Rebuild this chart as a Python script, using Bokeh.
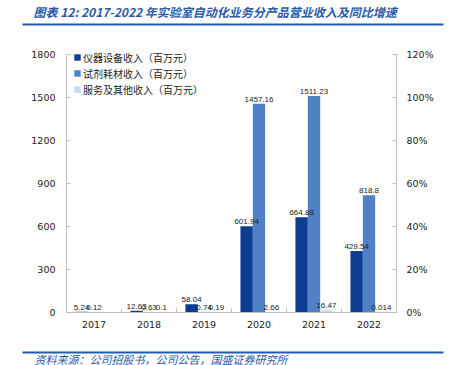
from bokeh.plotting import figure
from bokeh.models import (ColumnDataSource, LinearAxis, Range1d, FixedTicker, LabelSet, Label,
                          Legend, LegendItem, PrintfTickFormatter)
from bokeh.core.properties import value
from bokeh.embed import file_html
from bokeh.resources import INLINE

years = ["2017", "2018", "2019", "2020", "2021", "2022"]
instrument = [5.24, 12.63, 58.04, 601.94, 664.88, 429.54]
consumable = [0.12, 0.63, 0.74, 1457.16, 1511.23, 818.8]
service = [0.0, 0.1, 0.19, 2.66, 16.47, 0.014]
instrument_labels = ["5.24", "12.63", "58.04", "601.94", "664.88", "429.54"]
consumable_labels = ["0.12", "0.63", "0.74", "1457.16", "1511.23", "818.8"]
service_labels = ["", "0.1", "0.19", "2.66", "16.47", "0.014"]
series_names = ["仪器设备收入（百万元）", "试剂耗材收入（百万元）", "服务及其他收入（百万元）"]
left_ticks = [0, 300, 600, 900, 1200, 1500, 1800]
right_ticks = [0, 20, 40, 60, 80, 100, 120]
title_text = "图表 12:  2017-2022 年实验室自动化业务分产品营业收入及同比增速"
source_text = "资料来源：公司招股书，公司公告，国盛证券研究所"

colors = ["#0B3D91", "#4F81C4", "#C6D8EF"]
BLUE = "#1F5BB0"
TXT_BLUE = "#2B5AA8"
W, H = 451, 365
BW = 0.225
YMAX, PMAX = left_ticks[-1], right_ticks[-1]
N = len(years)

# layout of the plotting area inside the canvas (pixels)
AX_L, AX_R, AX_T, AX_B = 66, 396, 54, 312
CAT_PX = (AX_R - AX_L) / N


def xd(px):
    return (px - AX_L) / CAT_PX


def yd(py):
    return (AX_B - py) * YMAX / (AX_B - AX_T)


def pd(py):
    return (AX_B - py) * PMAX / (AX_B - AX_T)


p = figure(width=W, height=H, output_backend="svg", toolbar_location=None, title=None,
           x_range=Range1d(xd(0), xd(W)), y_range=Range1d(yd(H), yd(0)),
           min_border_left=0, min_border_right=0, min_border_top=0, min_border_bottom=0)
p.extra_y_ranges = {"pct": Range1d(pd(H), pd(0))}
p.outline_line_color = None
p.xgrid.visible = False
p.ygrid.visible = False

centers = [i + 0.5 for i in range(N)]
series = [(instrument, instrument_labels), (consumable, consumable_labels), (service, service_labels)]
renderers = []
for k, (vals, labs) in enumerate(series):
    xs = [c + (k - 1) * BW for c in centers]
    src = ColumnDataSource(dict(x=xs, top=vals, lab=labs))
    r = p.vbar(x="x", top="top", bottom=0, width=BW, source=src, fill_color=colors[k], line_color=None)
    renderers.append(r)
    p.add_layout(LabelSet(x="x", y="top", text="lab", source=src, text_align="center",
                          text_baseline="bottom", y_offset=2, text_font_size=value("8px"),
                          text_font=value("Liberation Sans"), text_color="#222222"))

gray = "#BFBFBF"
tick_font = "DejaVu Sans"
xa = p.xaxis[0]
xa.fixed_location = 0
xa.bounds = (0, N)
xa.ticker = FixedTicker(ticks=centers, minor_ticks=list(range(1, N)))
xa.major_label_overrides = {c: y for c, y in zip(centers, years)}
xa.major_tick_in = 0
xa.major_tick_out = 0
xa.minor_tick_in = 4
xa.minor_tick_out = 0
xa.minor_tick_line_color = gray
xa.axis_line_color = gray
xa.major_label_text_font = tick_font
xa.major_label_text_font_size = "9.5px"
xa.major_label_text_color = "#222222"
xa.major_label_standoff = 8

ya = p.yaxis[0]
ya.fixed_location = 0
ya.bounds = (0, YMAX)
ya.ticker = FixedTicker(ticks=left_ticks)
ya.axis_line_color = gray
ya.major_tick_line_color = gray
ya.major_tick_in = 4
ya.major_tick_out = 0
ya.minor_tick_line_color = None
ya.major_label_text_font = tick_font
ya.major_label_text_font_size = "9.5px"
ya.major_label_text_color = "#222222"
ya.major_label_standoff = 11

ra = LinearAxis(y_range_name="pct", ticker=FixedTicker(ticks=right_ticks),
                formatter=PrintfTickFormatter(format="%d%%"))
ra.fixed_location = N
ra.bounds = (0, PMAX)
ra.axis_line_color = gray
ra.major_tick_line_color = gray
ra.major_tick_in = 4
ra.major_tick_out = 0
ra.minor_tick_line_color = None
ra.major_label_text_font = tick_font
ra.major_label_text_font_size = "9.5px"
ra.major_label_text_color = "#222222"
ra.major_label_standoff = 10
p.add_layout(ra, "right")

legend = Legend(items=[LegendItem(label=series_names[k], renderers=[renderers[k]]) for k in range(3)],
                location=(73, H - 49 - 48), padding=0, margin=0, spacing=0, label_height=16,
                glyph_height=8, glyph_width=8, label_standoff=2,
                label_text_font="Noto Sans CJK SC", label_text_font_size="10px",
                label_text_color="#222222", border_line_color=None, background_fill_alpha=0)
p.add_layout(legend, "center")

# header / footer: title, rules, source
p.add_layout(Label(x=xd(33), y=yd(11), text=title_text, text_font="Noto Sans CJK SC",
                   text_font_size="12px", text_font_style="bold italic",
                   text_color=TXT_BLUE, text_baseline="middle"))
p.segment(x0=[xd(22), xd(22)], x1=[xd(443), xd(443)], y0=[yd(24), yd(352)], y1=[yd(24), yd(352)],
          line_color=BLUE, line_width=2)
p.add_layout(Label(x=xd(34), y=yd(358), text=source_text, text_font="Noto Sans CJK SC",
                   text_font_size="11px", text_font_style="italic",
                   text_color=TXT_BLUE, text_baseline="middle"))

open("out.html", "w").write(file_html(p, INLINE))
